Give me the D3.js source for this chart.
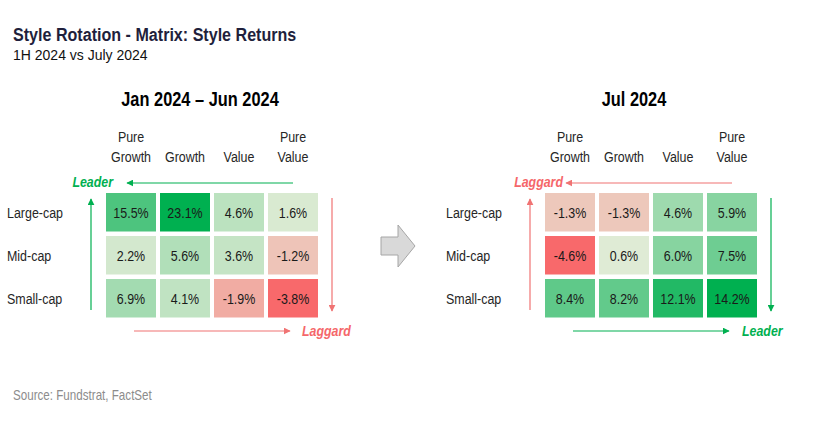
<!DOCTYPE html>
<html><head><meta charset="utf-8">
<script src="https://cdn.jsdelivr.net/npm/d3@7"></script>
<style>
body{margin:0;background:#fff;}
svg{display:block;}
text{font-family:"Liberation Sans",Arial,sans-serif;}
</style></head>
<body><svg id="c" width="817" height="423"></svg>
<script>
const columns = ["Pure Growth","Growth","Value","Pure Value"];
const rows = ["Large-cap","Mid-cap","Small-cap"];
const h1Values = [[15.5,23.1,4.6,1.6],[2.2,5.6,3.6,-1.2],[6.9,4.1,-1.9,-3.8]];
const julValues = [[-1.3,-1.3,4.6,5.9],[-4.6,0.6,6.0,7.5],[8.4,8.2,12.1,14.2]];
const panelTitles = ["Jan 2024 \u2013 Jun 2024","Jul 2024"];
const title = "Style Rotation - Matrix: Style Returns";
const subtitle = "1H 2024 vs July 2024";
const source = "Source: Fundstrat, FactSet";

const svg = d3.select("#c");
const GREEN="#00b050", RED="#f5676a", REDL="#f07373";
const SX = 0.83;

// narrow text helper: horizontally condensed text
function ntext(parent, x, y, str, o){
  o = o || {};
  const g = parent.append("g").attr("transform",`translate(${x},${y}) scale(${o.sx||SX},1)`);
  const t = g.append("text").attr("x",0).attr("y",0).attr("font-size",o.size||15).attr("fill",o.fill||"#262626")
    .attr("text-anchor",o.anchor||"start").text(str);
  if(o.dy) t.attr("dy",o.dy);
  if(o.bold) t.attr("font-weight","bold");
  if(o.italic) t.attr("font-style","italic");
  return t;
}

ntext(svg,13,41,title,{size:18.5,bold:true,fill:"#1f1f3c",sx:0.87});
svg.append("text").attr("x",13).attr("y",60).attr("font-size",14).attr("fill","#111").text(subtitle);
ntext(svg,13,400,source,{size:14,fill:"#8c8c8c"});

const defs = svg.append("defs");
function marker(id,color){
  defs.append("marker").attr("id",id).attr("viewBox","0 0 10 10").attr("refX",9).attr("refY",5)
    .attr("markerWidth",7).attr("markerHeight",7).attr("markerUnits","userSpaceOnUse").attr("orient","auto")
    .append("path").attr("d","M0,0 L10,5 L0,10 Z").attr("fill",color);
}
marker("mg",GREEN); marker("mr",REDL);

function panel(x0, vals, ptitle, titleX, topLabel, topLabelX, topColor, bottomLabel, bottomLabelX, bottomColor){
  const flat = vals.flat();
  const mn = d3.min(flat), mx = d3.max(flat);
  const color = d3.scaleLinear().domain([mn,0,mx]).range(["#f8696b","#e9eedb","#00b050"]).interpolate(d3.interpolateRgb);
  const x = d3.scaleBand().domain(columns).range([x0, x0+212]).paddingInner(4/54);
  const y = d3.scaleBand().domain(rows).range([193, 317.5]).paddingInner(4.5/43);
  const g = svg.append("g");
  ntext(g,titleX,106,ptitle,{size:19.5,bold:true,fill:"#000",anchor:"middle",sx:0.84});
  columns.forEach(c=>{
    const parts = c.split(" ");
    const cx = x(c)+x.bandwidth()/2;
    if(parts.length===2){
      ntext(g,cx,141.5,parts[0],{anchor:"middle"});
      ntext(g,cx,161.5,parts[1],{anchor:"middle"});
    } else {
      ntext(g,cx,161.5,c,{anchor:"middle"});
    }
  });
  rows.forEach((r,i)=>{
    ntext(g,x0-99,y(r)+y.bandwidth()/2,r,{dy:"0.35em"});
    columns.forEach((c,j)=>{
      const v = vals[i][j];
      g.append("rect").attr("x",x(c)).attr("y",y(r)).attr("width",x.bandwidth()).attr("height",y.bandwidth()).attr("fill",color(v));
      ntext(g,x(c)+x.bandwidth()/2,y(r)+y.bandwidth()/2,v.toFixed(1)+"%",{dy:"0.35em",anchor:"middle",fill:"#1a1a1a"});
    });
  });
  const leftColor = topColor, rightColor = bottomColor;
  const mk = c => c===GREEN ? "url(#mg)" : "url(#mr)";
  const lc = c => c===GREEN ? GREEN : REDL;
  g.append("line").attr("x1",x0+187).attr("x2",x0+21).attr("y1",183).attr("y2",183).attr("stroke",lc(topColor)).attr("stroke-width",1.2).attr("marker-end",mk(topColor));
  g.append("line").attr("x1",x0-15).attr("x2",x0-15).attr("y1",310).attr("y2",199).attr("stroke",lc(leftColor)).attr("stroke-width",1.2).attr("marker-end",mk(leftColor));
  g.append("line").attr("x1",x0+226).attr("x2",x0+226).attr("y1",198).attr("y2",311).attr("stroke",lc(rightColor)).attr("stroke-width",1.2).attr("marker-end",mk(rightColor));
  g.append("line").attr("x1",x0+28).attr("x2",x0+184).attr("y1",331).attr("y2",331).attr("stroke",lc(bottomColor)).attr("stroke-width",1.2).attr("marker-end",mk(bottomColor));
  ntext(g,topLabelX,182,topLabel,{dy:"0.35em",anchor:"end",size:15.5,bold:true,italic:true,fill:topColor===GREEN?GREEN:RED,sx:0.8});
  ntext(g,bottomLabelX,331,bottomLabel,{dy:"0.35em",size:15.5,bold:true,italic:true,fill:bottomColor===GREEN?GREEN:RED,sx:0.8});
}
panel(106, h1Values, panelTitles[0], 200, "Leader", 113, GREEN, "Laggard", 302, RED);
panel(545, julValues, panelTitles[1], 634, "Laggard", 563, RED, "Leader", 742, GREEN);

svg.append("path").attr("d","M381,237 L398,237 L398,225 L415,246 L398,267 L398,255 L381,255 Z")
  .attr("fill","#d9d9d9").attr("stroke","#a6a6a6").attr("stroke-width",1);
</script></body></html>
